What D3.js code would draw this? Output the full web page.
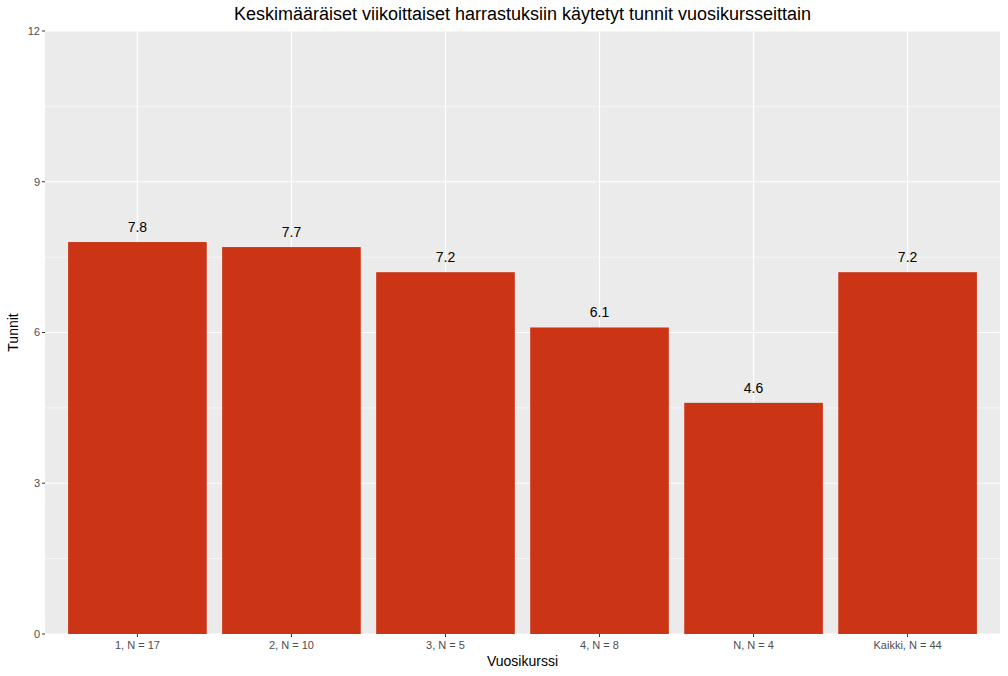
<!DOCTYPE html>
<html><head><meta charset="utf-8">
<script src="https://cdn.jsdelivr.net/npm/d3@7"></script>
<style>body{margin:0;background:#fff;font-family:"Liberation Sans",Arial,sans-serif}</style>
</head><body><svg id="c" width="1008" height="676"></svg>
<script>
const categories = ["1, N = 17","2, N = 10","3, N = 5","4, N = 8","N, N = 4","Kaikki, N = 44"];
const values = [7.8, 7.7, 7.2, 6.1, 4.6, 7.2];
const labels = ["7.8","7.7","7.2","6.1","4.6","7.2"];
const yTicks = [0,3,6,9,12];
const yMinor = [1.5,4.5,7.5,10.5];
const title = "Keskimääräiset viikoittaiset harrastuksiin käytetyt tunnit vuosikursseittain";

const svg = d3.select("#c");
const L=45, R=1000, T=31, B=634;
const x = d3.scaleBand().domain(categories).range([L,R]).paddingInner(0.1).paddingOuter(0.6*1.0);
// ggplot discrete: expansion 0.6 units, bar width 0.9
const step = (R-L)/(categories.length-1+1.2);
const xc = d => L + step*(0.6 + categories.indexOf(d));
const bw = step*0.9;
const y = d3.scaleLinear().domain([0,12]).range([B,T]);

svg.append("rect").attr("x",L).attr("y",T).attr("width",R-L).attr("height",B-T).attr("fill","#EBEBEB");
svg.selectAll(".mn").data(yMinor).enter().append("line")
  .attr("x1",L).attr("x2",R).attr("y1",d=>y(d)).attr("y2",d=>y(d))
  .attr("stroke","#fff").attr("stroke-width",0.6);
svg.selectAll(".mj").data(yTicks).enter().append("line")
  .attr("x1",L).attr("x2",R).attr("y1",d=>y(d)).attr("y2",d=>y(d))
  .attr("stroke","#fff").attr("stroke-width",1.2);
svg.selectAll(".vx").data(categories).enter().append("line")
  .attr("x1",d=>xc(d)).attr("x2",d=>xc(d)).attr("y1",T).attr("y2",B)
  .attr("stroke","#fff").attr("stroke-width",1.2);

svg.selectAll(".bar").data(values).enter().append("rect")
  .attr("x",(d,i)=>xc(categories[i])-bw/2).attr("width",bw)
  .attr("y",d=>y(d)).attr("height",d=>B-y(d)).attr("fill","#CB3414");

svg.selectAll(".lab").data(values).enter().append("text")
  .attr("x",(d,i)=>xc(categories[i])).attr("y",d=>y(d)-10)
  .attr("text-anchor","middle").attr("font-size",14).attr("fill","#000")
  .text((d,i)=>labels[i]);

// y axis
const ya = svg.append("g");
yTicks.forEach(t=>{
  ya.append("line").attr("x1",L-3).attr("x2",L).attr("y1",y(t)).attr("y2",y(t)).attr("stroke","#333").attr("stroke-width",1);
  ya.append("text").attr("x",L-5).attr("y",y(t)).attr("dy","0.35em").attr("text-anchor","end")
    .attr("font-size",11).attr("fill","#4D4D4D").text(t);
});
// x axis
categories.forEach(c=>{
  svg.append("line").attr("x1",xc(c)).attr("x2",xc(c)).attr("y1",B).attr("y2",B+3).attr("stroke","#333");
  svg.append("text").attr("x",xc(c)).attr("y",B+15).attr("text-anchor","middle")
    .attr("font-size",11).attr("fill","#4D4D4D").text(c);
});
svg.append("text").attr("x",(L+R)/2).attr("y",666).attr("text-anchor","middle").attr("font-size",14).text("Vuosikurssi");
svg.append("text").attr("transform",`translate(18,${(T+B)/2}) rotate(-90)`).attr("text-anchor","middle").attr("font-size",14).text("Tunnit");
svg.append("text").attr("x",(L+R)/2).attr("y",20).attr("text-anchor","middle").attr("font-size",18).text(title);
</script></body></html>
